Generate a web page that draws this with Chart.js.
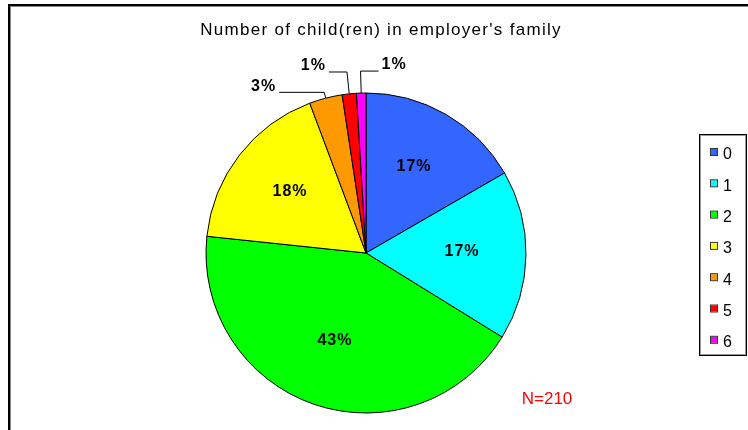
<!DOCTYPE html>
<html>
<head>
<meta charset="utf-8">
<script src="https://cdn.jsdelivr.net/npm/chart.js@4.4.0/dist/chart.umd.min.js"></script>
<style>
  html, body { margin: 0; padding: 0; background: #fff; }
</style>
</head>
<body>
<canvas id="chart" width="748" height="430"></canvas>
<script>
const titleText = "Number of child(ren) in employer's family";
const categories = ['0', '1', '2', '3', '4', '5', '6'];
const counts = [35, 36, 90, 37, 7, 3, 2];
const sliceColors = ['#3366FF', '#00FFFF', '#00FF00', '#FFFF00', '#FF9900', '#FF0000', '#FF00FF'];
const sampleNote = 'N=210';

const FONT = '"Liberation Sans", Arial, sans-serif';

// excel-ish extras: frame, title, slice labels, boxed legend, N note
const decor = {
  id: 'decor',
  beforeDraw(chart) {
    const ctx = chart.ctx;
    ctx.save();
    ctx.fillStyle = '#fff';
    ctx.fillRect(0, 0, chart.width, chart.height);
    ctx.restore();
  },
  afterDraw(chart) {
    const ctx = chart.ctx;
    const meta = chart.getDatasetMeta(0);
    const values = chart.data.datasets[0].data;
    const total = values.reduce((a, b) => a + b, 0);
    ctx.save();

    // frame (only top and left edges are in view)
    ctx.fillStyle = '#000';
    ctx.fillRect(8, 4, chart.width - 8, 2);
    ctx.fillRect(8, 4, 2, chart.height - 4);
    ctx.fillStyle = '#888';
    ctx.fillRect(10, 6, chart.width - 10, 1);
    ctx.fillRect(10, 6, 1, chart.height - 6);

    // title
    ctx.fillStyle = '#000';
    ctx.font = '17px ' + FONT;
    ctx.letterSpacing = '1.3px';
    ctx.textAlign = 'center';
    ctx.textBaseline = 'middle';
    ctx.fillText(titleText, 381, 30);

    // slice labels
    ctx.font = 'bold 16px ' + FONT;
    ctx.letterSpacing = '1px';
    ctx.strokeStyle = '#000';
    ctx.lineWidth = 1;
    meta.data.forEach((arc, i) => {
      const p = arc.getProps(['x', 'y', 'startAngle', 'endAngle', 'outerRadius']);
      const mid = (p.startAngle + p.endAngle) / 2;
      const pct = values[i] / total * 100;
      const txt = Math.round(pct) + '%';
      if (pct >= 5) {
        const r = p.outerRadius * 0.6;
        ctx.textAlign = 'center';
        ctx.fillText(txt, p.x + Math.cos(mid) * r, p.y + Math.sin(mid) * r - 3);
      } else {
        const ax = p.x + Math.cos(mid) * p.outerRadius;
        const ay = p.y + Math.sin(mid) * p.outerRadius;
        const er = p.outerRadius + (pct < 2 ? 22 : 6);
        const ex = p.x + Math.cos(mid) * er;
        const ey = p.y + Math.sin(mid) * er;
        const right = i === values.length - 1;
        const len = pct < 2 ? 18 : 45;
        const hx = right ? ex + len : ex - len;
        ctx.beginPath();
        ctx.moveTo(ax, ay);
        ctx.lineTo(ex, ey);
        ctx.lineTo(hx, ey);
        ctx.stroke();
        ctx.textAlign = right ? 'left' : 'right';
        ctx.fillText(txt, right ? hx + 3 : hx - 3, ey - 6);
      }
    });

    // legend box
    ctx.letterSpacing = '0px';
    ctx.fillStyle = '#fff';
    ctx.fillRect(699, 134, 48, 222);
    ctx.strokeStyle = '#000';
    ctx.strokeRect(699.5, 134.5, 47, 221);
    ctx.strokeStyle = '#999';
    ctx.strokeRect(700.5, 135.5, 45, 219);
    ctx.font = '16px ' + FONT;
    ctx.textAlign = 'left';
    chart.data.labels.forEach((lab, i) => {
      const cy = 152 + i * 31.3;
      ctx.fillStyle = chart.data.datasets[0].backgroundColor[i];
      ctx.fillRect(711, cy - 3, 6, 6);
      ctx.strokeStyle = '#333';
      ctx.strokeRect(710.5, cy - 3.5, 7, 7);
      ctx.fillStyle = '#000';
      ctx.fillText(lab, 723, cy + 3);
    });

    // N note
    ctx.fillStyle = '#FF0000';
    ctx.font = '17px ' + FONT;
    ctx.textAlign = 'center';
    ctx.fillText(sampleNote, 547, 399);

    ctx.restore();
  }
};

new Chart(document.getElementById('chart'), {
  type: 'pie',
  data: {
    labels: categories,
    datasets: [{
      data: counts,
      backgroundColor: sliceColors,
      borderColor: '#000',
      borderWidth: 1,
      hoverBorderWidth: 1,
      hoverOffset: 0,
      offset: 0,
      radius: 160
    }]
  },
  options: {
    responsive: false,
    animation: false,
    events: [],
    layout: { padding: { left: 200, right: 216, top: 93, bottom: 17 } },
    plugins: {
      legend: { display: false },
      title: { display: false },
      tooltip: { enabled: false }
    }
  },
  plugins: [decor]
});
</script>
</body>
</html>
